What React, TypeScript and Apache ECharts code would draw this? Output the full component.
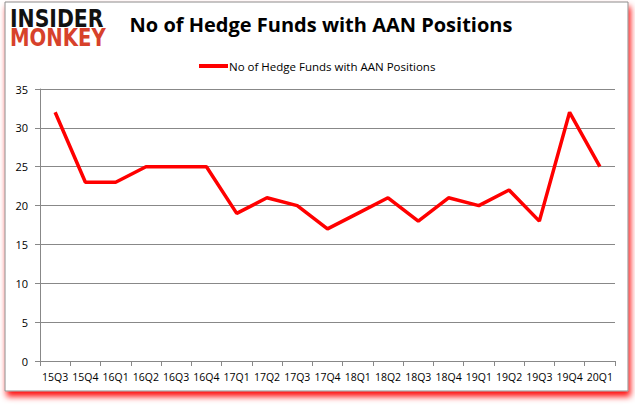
import React, { useEffect, useRef } from "react";
import * as echarts from "echarts";

const quarters = [
  "15Q3", "15Q4", "16Q1", "16Q2", "16Q3", "16Q4", "17Q1", "17Q2", "17Q3", "17Q4",
  "18Q1", "18Q2", "18Q3", "18Q4", "19Q1", "19Q2", "19Q3", "19Q4", "20Q1",
];
const hedgeFunds = [32, 23, 23, 25, 25, 25, 19, 21, 20, 17, 19, 21, 18, 21, 20, 22, 18, 32, 25];
const seriesName = "No of Hedge Funds with AAN Positions";

const App: React.FC = () => {
  const chartRef = useRef<HTMLDivElement>(null);

  useEffect(() => {
    const chart = echarts.init(chartRef.current!, undefined, { renderer: "svg" });

    chart.setOption({
      animation: false,
      backgroundColor: "#fff",
      title: {
        text: "No of Hedge Funds with AAN Positions",
        left: 316,
        top: 9,
        textAlign: "center",
        textStyle: {
          fontFamily: "Open Sans",
          fontSize: 20,
          fontWeight: "bold",
          color: "#000",
        },
      },
      legend: {
        top: 55,
        left: 194,
        itemWidth: 29,
        itemHeight: 4,
        itemGap: 4,
        icon: "rect",
        textStyle: { fontFamily: "Open Sans", fontSize: 11.5, color: "#000", padding: [0, 0, 0, -4] },
        data: [seriesName],
      },
      graphic: [
        {
          type: "rect",
          z: -10,
          shape: { x: 5, y: 2, width: 623, height: 389 },
          style: {
            fill: "#fff",
            stroke: "#8c8c8c",
            lineWidth: 1,
            shadowColor: "rgba(255,0,0,0.95)",
            shadowBlur: 6,
            shadowOffsetX: 2,
            shadowOffsetY: 5,
          },
        },
        {
          type: "text",
          x: 10,
          y: 6,
          scaleX: 0.85,
          style: {
            text: "INSIDER",
            fontFamily: "DejaVu Sans",
            fontWeight: "bold",
            fontSize: 24,
            fill: "#111",
          },
        },
        {
          type: "text",
          x: 10,
          y: 26,
          scaleX: 0.82,
          style: {
            text: "MONKEY",
            fontFamily: "DejaVu Sans",
            fontWeight: "bold",
            fontSize: 24,
            fill: "#d7412b",
          },
        },
      ],
      grid: { left: 40, right: 20, top: 89, bottom: 44 },
      xAxis: {
        type: "category",
        data: quarters,
        boundaryGap: true,
        axisLine: { lineStyle: { color: "#888" } },
        axisTick: { show: true, length: 5, lineStyle: { color: "#888" } },
        axisLabel: { interval: 0, color: "#000", fontFamily: "Open Sans", fontSize: 10.5, margin: 10 },
      },
      yAxis: {
        type: "value",
        min: 0,
        max: 35,
        interval: 5,
        axisLine: { show: true, lineStyle: { color: "#888" } },
        axisTick: { show: true, length: 5, lineStyle: { color: "#888" } },
        axisLabel: { color: "#000", fontFamily: "Open Sans", fontSize: 11, margin: 12 },
        splitLine: { lineStyle: { color: "#888" } },
      },
      series: [
        {
          name: seriesName,
          type: "line",
          data: hedgeFunds,
          symbol: "none",
          lineStyle: { color: "#ff0000", width: 3.5 },
          itemStyle: { color: "#ff0000" },
        },
      ],
    });

    return () => {
      chart.dispose();
    };
  }, []);

  return (
    <div
      ref={chartRef}
      style={{ position: "fixed", left: 0, top: 0, width: "635px", height: "405px" }}
    ></div>
  );
};

export default App;
